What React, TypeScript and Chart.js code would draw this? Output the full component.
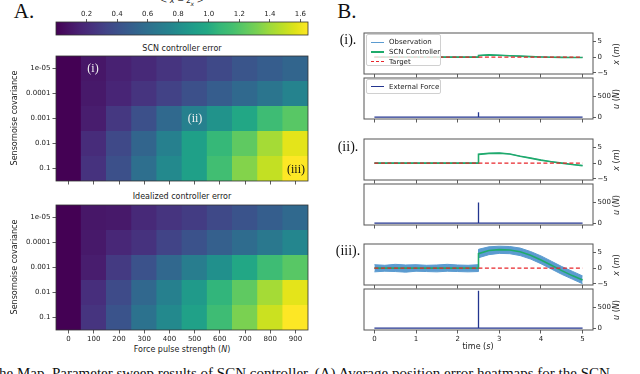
import React, { useEffect, useRef } from 'react';
import { Chart, registerables } from 'chart.js';
Chart.register(...registerables);
Chart.defaults.font.family = "'DejaVu Sans', sans-serif";

// ---------- DATA ----------
const forceLabels = ['0', '100', '200', '300', '400', '500', '600', '700', '800', '900'];
const noiseLabels = ['1e-05', '0.0001', '0.001', '0.01', '0.1'];
const colorbarTicks = [0.2, 0.4, 0.6, 0.8, 1.0, 1.2, 1.4, 1.6];
const CMAX = 1.65;

// SCN controller error, one row per sensor-noise covariance
const scnRow1e5 = [0, 0.1, 0.15, 0.19, 0.25, 0.3, 0.36, 0.43, 0.48, 0.53];
const scnRow1e4 = [0, 0.11, 0.17, 0.25, 0.32, 0.4, 0.48, 0.56, 0.64, 0.74];
const scnRow1e3 = [0, 0.13, 0.27, 0.4, 0.56, 0.72, 0.84, 0.98, 1.12, 1.22];
const scnRow1e2 = [0, 0.21, 0.36, 0.53, 0.72, 0.92, 1.08, 1.24, 1.42, 1.58];
const scnRow1e1 = [0, 0.24, 0.4, 0.6, 0.78, 0.92, 1.14, 1.34, 1.5, 1.65];

// Idealized controller error
const idealRow1e5 = [0, 0.1, 0.11, 0.19, 0.25, 0.29, 0.36, 0.42, 0.49, 0.56];
const idealRow1e4 = [0, 0.11, 0.18, 0.24, 0.33, 0.41, 0.5, 0.58, 0.66, 0.76];
const idealRow1e3 = [0, 0.13, 0.28, 0.41, 0.55, 0.7, 0.82, 0.98, 1.12, 1.22];
const idealRow1e2 = [0, 0.22, 0.37, 0.55, 0.72, 0.88, 1.06, 1.24, 1.42, 1.58];
const idealRow1e1 = [0, 0.25, 0.42, 0.62, 0.78, 0.93, 1.12, 1.32, 1.52, 1.65];

const timeTicks = [0, 1, 2, 3, 4, 5];
const posTicks = [-5, 0, 5];
const forceTicks = [0, 500];

const targetTime = [0, 5];
const targetVal = [0, 0];

const ctrlTime = [0, 2.5, 2.5, 2.75, 3.0, 3.25, 3.5, 3.75, 4.0, 4.25, 4.5, 4.75, 5.0];
const ctrlI = [0, 0, 0.5, 0.7, 0.6, 0.45, 0.3, 0.15, 0.05, -0.05, -0.1, -0.12, -0.12];
const ctrlII = [0, 0, 2.8, 3.1, 3.2, 2.9, 2.2, 1.6, 0.95, 0.45, 0.0, -0.45, -0.8];
const ctrlIII = [0, 0, 4.6, 5.6, 5.9, 5.8, 5.2, 4.1, 2.6, 0.9, -0.8, -2.4, -3.8];

const obsTimeIII = [0, 0.25, 0.5, 0.75, 1.0, 1.25, 1.5, 1.75, 2.0, 2.25, 2.5, 2.5, 2.75, 3.0, 3.25, 3.5, 3.75, 4.0, 4.25, 4.5, 4.75, 5.0];
const obsUpperIII = [1.1, 0.9, 1.2, 1.0, 1.1, 0.9, 1.0, 1.2, 1.0, 0.9, 1.1, 6.0, 6.8, 7.0, 6.9, 6.4, 5.3, 3.9, 2.2, 0.5, -1.0, -2.5];
const obsLowerIII = [-1.2, -1.0, -1.1, -1.3, -1.0, -1.1, -1.2, -1.0, -1.1, -1.2, -1.1, 3.3, 4.3, 4.7, 4.6, 4.0, 2.9, 1.4, -0.3, -2.0, -3.5, -5.0];

const forceTime = [0, 2.5, 2.5, 2.5, 5];
const forceI = [0, 0, 120, 0, 0];
const forceII = [0, 0, 500, 0, 0];
const forceIII = [0, 0, 900, 0, 0];

// ---------- COLOURS ----------
const VIRIDIS = ['#440154', '#471365', '#482475', '#46337f', '#414487', '#3b528b', '#355f8d', '#2f6c8e', '#2a788e', '#25838e', '#21918c', '#1f9e89', '#22a884', '#35b779', '#44bf70', '#5ec962', '#7ad151', '#9fda3a', '#bddf26', '#dfe318', '#fde725'];
const hexRgb = (h: string) => [parseInt(h.slice(1, 3), 16), parseInt(h.slice(3, 5), 16), parseInt(h.slice(5, 7), 16)];
function viridis(t: number) {
  const c = Math.max(0, Math.min(1, t)) * (VIRIDIS.length - 1);
  const i = Math.min(Math.floor(c), VIRIDIS.length - 2);
  const f = c - i;
  const a = hexRgb(VIRIDIS[i]);
  const b = hexRgb(VIRIDIS[i + 1]);
  const m = a.map((v, k) => Math.round(v + (b[k] - v) * f));
  return `rgb(${m[0]},${m[1]},${m[2]})`;
}
const OBS = '#5b9bd0';
const GREEN = '#1fab6b';
const RED = '#e8262b';
const NAVY = '#23358f';

const sans = "'DejaVu Sans', sans-serif";
const serif = "'Liberation Serif', 'DejaVu Serif', serif";

const framePlugin = {
  id: 'frame',
  afterDatasetsDraw(chart: any, _args: any, opts: any) {
    const { ctx, chartArea: a } = chart;
    ctx.save();
    ctx.strokeStyle = opts.color || '#444';
    ctx.lineWidth = opts.width || 1;
    ctx.strokeRect(a.left, a.top, a.right - a.left, a.bottom - a.top);
    ctx.restore();
  },
};

const pts = (xs: number[], ys: number[]) => xs.map((x, i) => ({ x, y: ys[i] }));

const tickGrid = { drawOnChartArea: false, tickLength: 3.5, tickColor: '#333', tickWidth: 0.8 };

function heatmapConfig(rows: number[][], showX: boolean): any {
  return {
    type: 'bar',
    data: {
      labels: forceLabels,
      datasets: rows.map((row, r) => ({
        label: noiseLabels[r],
        data: row.map(() => [r, r + 1]),
        backgroundColor: row.map((v) => viridis(v / CMAX)),
        borderWidth: 0,
        barPercentage: 1.03,
        categoryPercentage: 1,
        grouped: false,
      })),
    },
    options: {
      animation: false,
      responsive: false,
      events: [],
      layout: { padding: { left: 0, right: 12, top: 12, bottom: 0 } },
      plugins: { legend: { display: false }, tooltip: { enabled: false }, frame: { color: '#333', width: 0.8 } },
      scales: {
        x: {
          type: 'category',
          grid: { ...tickGrid, offset: false },
          border: { display: false },
          ticks: { display: showX, font: { size: 7 }, color: '#222', padding: 1, maxRotation: 0, autoSkip: false },
          afterFit: (s: any) => { s.height = showX ? 13 : 11; },
        },
        y: {
          type: 'linear',
          reverse: true,
          min: 0,
          max: 5,
          grid: tickGrid,
          border: { display: false },
          ticks: { font: { size: 7 }, color: '#222', padding: 2, autoSkip: false, callback: (v: number) => noiseLabels[Math.floor(v)] },
          afterBuildTicks: (s: any) => { s.ticks = noiseLabels.map((_, i) => ({ value: i + 0.5 })); },
          afterFit: (s: any) => { s.width = 56; },
        },
      },
    },
    plugins: [framePlugin],
  };
}

function colorbarConfig(): any {
  return {
    type: 'bar',
    data: {
      labels: ['cb'],
      datasets: [{
        data: [[0, CMAX]],
        backgroundColor: (c: any) => {
          const a = c.chart.chartArea;
          if (!a) return VIRIDIS[10];
          const g = c.chart.ctx.createLinearGradient(a.left, 0, a.right, 0);
          VIRIDIS.forEach((col, i) => g.addColorStop(i / (VIRIDIS.length - 1), col));
          return g;
        },
        borderWidth: 0,
        barPercentage: 1,
        categoryPercentage: 1,
      }],
    },
    options: {
      indexAxis: 'y',
      animation: false,
      responsive: false,
      events: [],
      layout: { padding: { left: 56, right: 12, top: 0, bottom: 1 } },
      plugins: { legend: { display: false }, tooltip: { enabled: false }, frame: { color: '#333', width: 0.8 } },
      scales: {
        x: {
          type: 'linear',
          position: 'top',
          min: 0,
          max: CMAX,
          grid: { ...tickGrid, tickLength: 3 },
          border: { display: false },
          ticks: { font: { size: 7 }, color: '#222', padding: 1, callback: (v: number) => v.toFixed(1) },
          afterBuildTicks: (s: any) => { s.ticks = colorbarTicks.map((v) => ({ value: v })); },
          afterFit: (s: any) => { s.height = 22; },
        },
        y: { display: false },
      },
    },
    plugins: [framePlugin],
  };
}

function timeConfig(datasets: any[], yMin: number, yMax: number, yTicks: number[], showX: boolean): any {
  return {
    type: 'line',
    data: { datasets },
    options: {
      animation: false,
      responsive: false,
      events: [],
      layout: { padding: { left: 44, right: 22, top: 8, bottom: 0 } },
      plugins: { legend: { display: false }, tooltip: { enabled: false }, frame: { color: '#555', width: 1 } },
      elements: { point: { radius: 0 }, line: { tension: 0 } },
      scales: {
        x: {
          type: 'linear',
          min: -0.25,
          max: 5.25,
          grid: tickGrid,
          border: { display: false },
          ticks: { display: showX, font: { size: 7 }, color: '#222', padding: 1, callback: (v: number) => String(v) },
          afterBuildTicks: (s: any) => { s.ticks = timeTicks.map((v) => ({ value: v })); },
          afterFit: (s: any) => { s.height = showX ? 14 : 8; },
        },
        y: {
          type: 'linear',
          position: 'right',
          min: yMin,
          max: yMax,
          grid: { ...tickGrid, tickLength: 3 },
          border: { display: false },
          ticks: { font: { size: 7 }, color: '#222', padding: 1.5, callback: (v: number) => (v < 0 ? '\u2212' + Math.abs(v) : String(v)) },
          afterBuildTicks: (s: any) => { s.ticks = yTicks.map((v) => ({ value: v })); },
          afterFit: (s: any) => { s.width = 25; },
        },
      },
    },
    plugins: [framePlugin],
  };
}

const targetDs = () => ({ label: 'Target', data: pts(targetTime, targetVal), borderColor: RED, borderWidth: 1.2, borderDash: [4, 2.5] });
const ctrlDs = (ys: number[]) => ({ label: 'SCN Controller', data: pts(ctrlTime, ys), borderColor: GREEN, borderWidth: 1.6 });
const obsLineDs = (ys: number[]) => ({ label: 'Observation', data: pts(ctrlTime, ys), borderColor: OBS, borderWidth: 1 });
const forceDs = (ys: number[]) => ({ label: 'External Force', data: pts(forceTime, ys), borderColor: NAVY, borderWidth: 1.3 });

function ChartCanvas({ left, top, width, height, make }: { left: number; top: number; width: number; height: number; make: () => any }) {
  const ref = useRef<HTMLCanvasElement | null>(null);
  useEffect(() => {
    const chart = new Chart(ref.current as HTMLCanvasElement, make());
    return () => chart.destroy();
  }, []);
  return <canvas ref={ref} width={width} height={height} style={{ position: 'absolute', left, top, width, height }} />;
}

function T({ x, y, size = 8, font = sans, color = '#222', rotate = false, children, style = {} }: any) {
  return (
    <div style={{ position: 'absolute', left: x, top: y, transform: `translate(-50%,-50%)${rotate ? ' rotate(-90deg)' : ''}`, fontFamily: font, fontSize: size, color, whiteSpace: 'nowrap', lineHeight: 1, ...style }}>
      {children}
    </div>
  );
}

function Legend({ left, top, height, items }: any) {
  return (
    <div style={{ position: 'absolute', left, top, width: 75, height, background: 'rgba(255,255,255,0.8)', border: '1px solid #d0d0d0', borderRadius: 2, boxSizing: 'border-box' }}>
      {items.map((it: any, i: number) => (
        <React.Fragment key={i}>
          <div style={{ position: 'absolute', left: 4, top: 7 + i * 9.8 - it.w / 2, width: 13, height: 0, borderTop: `${it.w}px ${it.dash ? 'dashed' : 'solid'} ${it.color}` }} />
          <div style={{ position: 'absolute', left: 22, top: 7 + i * 9.8, transform: 'translateY(-50%)', fontFamily: sans, fontSize: 7, color: '#222', whiteSpace: 'nowrap', lineHeight: 1 }}>{it.label}</div>
        </React.Fragment>
      ))}
    </div>
  );
}

const panels = [
  { top: 33, ctrl: ctrlI, force: forceI, label: '(i).', labelY: 40 },
  { top: 139, ctrl: ctrlII, force: forceII, label: '(ii).', labelY: 147 },
  { top: 244, ctrl: ctrlIII, force: forceIII, label: '(iii).', labelY: 251 },
];

export default function App() {
  const xm = <span><i>x</i> (<i>m</i>)</span>;
  const uN = <span><i>u</i> (<i>N</i>)</span>;
  return (
    <div style={{ position: 'fixed', left: 0, top: 0, width: 640, height: 374, overflow: 'hidden', background: '#fff' }}>
      {/* Panel A */}
      <T x={24} y={11} size={21} font={serif} color="#111">A.</T>
      <T x={182} y={2} size={8} style={{ fontStyle: 'normal' }}>
        &lt; <i>x</i> − <i>z</i><sub style={{ fontSize: 6 }}><i>x</i></sub> &gt;
      </T>
      <ChartCanvas left={0} top={0} width={320} height={36} make={colorbarConfig} />
      <T x={182} y={49}>SCN controller error</T>
      <ChartCanvas left={0} top={44} width={320} height={148} make={() => heatmapConfig([scnRow1e5, scnRow1e4, scnRow1e3, scnRow1e2, scnRow1e1], false)} />
      <T x={182} y={197}>Idealized controller error</T>
      <ChartCanvas left={0} top={193} width={320} height={150} make={() => heatmapConfig([idealRow1e5, idealRow1e4, idealRow1e3, idealRow1e2, idealRow1e1], true)} />
      <T x={182} y={350}>Force pulse strength (<i>N</i>)</T>
      <T x={15} y={118} rotate>Sensornoise covariance</T>
      <T x={15} y={267} rotate>Sensornoise covariance</T>
      <T x={93} y={68} size={12} font={serif} color="#f2f2f2">(i)</T>
      <T x={195} y={118} size={12} font={serif} color="#f2f2f2">(ii)</T>
      <T x={296} y={169} size={12} font={serif} color="#111">(iii)</T>

      {/* Panel B */}
      <T x={347} y={11} size={21} font={serif} color="#111">B.</T>
      {panels.map((p, k) => {
        const last = k === panels.length - 1;
        const topDs = k === 2
          ? [
              targetDs(),
              ctrlDs(p.ctrl),
              { label: 'Observation', data: pts(obsTimeIII, obsUpperIII), borderColor: OBS, backgroundColor: OBS, borderWidth: 1, fill: '+1' },
              { label: 'Observation', data: pts(obsTimeIII, obsLowerIII), borderColor: OBS, borderWidth: 1 },
            ]
          : [targetDs(), ctrlDs(p.ctrl), obsLineDs(p.ctrl)];
        const botTop = p.top + 45;
        return (
          <React.Fragment key={k}>
            <T x={348} y={p.labelY} size={14} font={serif} color="#111">{p.label}</T>
            <ChartCanvas left={320} top={p.top - 8} width={320} height={8 + 41 + 8} make={() => timeConfig(topDs, -5.4, 7.7, posTicks, false)} />
            <ChartCanvas left={320} top={botTop - 8} width={320} height={8 + 41 + (last ? 14 : 8)} make={() => timeConfig([forceDs(p.force)], -45, 945, forceTicks, last)} />
            <T x={617} y={p.top + 20.5} rotate>{xm}</T>
            <T x={617} y={botTop + 20.5} rotate>{uN}</T>
          </React.Fragment>
        );
      })}
      <Legend left={366} top={34} height={32} items={[
        { label: 'Observation', color: OBS, w: 1 },
        { label: 'SCN Controller', color: GREEN, w: 2 },
        { label: 'Target', color: RED, w: 1.5, dash: true },
      ]} />
      <Legend left={366} top={79} height={15} items={[{ label: 'External Force', color: NAVY, w: 1.5 }]} />
      <T x={478} y={347}>time (<i>s</i>)</T>

      {/* caption fragment */}
      <div style={{ position: 'absolute', left: -1, top: 366, fontFamily: serif, fontSize: 15, color: '#111', whiteSpace: 'nowrap', lineHeight: 1 }}>
        he Map. Parameter sweep results of SCN controller. (A) Average position error heatmaps for the SCN
      </div>
    </div>
  );
}
